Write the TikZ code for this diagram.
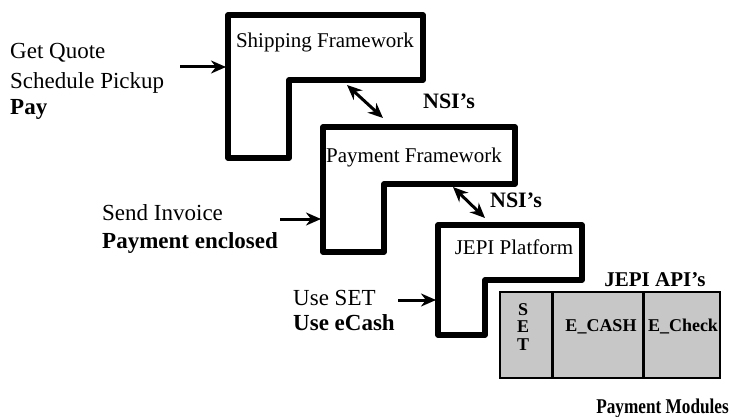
\documentclass[tikz,border=0pt]{standalone}
\usepackage{fontspec}
\usepackage{graphicx}
\setmainfont{Liberation Serif}
\usetikzlibrary{arrows.meta}
\begin{document}
\begin{tikzpicture}[x=1pt,y=-1pt,
  frame/.style={line width=5.5pt, line join=round},
  boxlab/.style={font=\fontsize{21}{24}\selectfont, inner sep=0},
  side/.style={font=\fontsize{23}{28}\selectfont, inner sep=0, anchor=base west},
  sideb/.style={side, font=\fontsize{23}{28}\selectfont\bfseries},
  nsi/.style={font=\fontsize{22}{24}\selectfont\bfseries, inner sep=0},
  apilab/.style={font=\fontsize{21}{24}\selectfont\bfseries, inner sep=0},
  modlab/.style={font=\fontsize{18}{20}\selectfont\bfseries, inner sep=0},
  arr/.style={line width=3pt, -{Stealth[length=15pt,width=13pt]}},
  darr/.style={line width=3pt, {Stealth[length=15pt,width=13pt]}-{Stealth[length=15pt,width=13pt]}},
  modfill/.style={fill=black!22, draw=black, line width=1.8pt}
]
\useasboundingbox (0,0) rectangle (731,417);

% L-shaped frameworks
\draw[frame] (228,15) -- (423,15) -- (423,80) -- (289,80) -- (289,158) -- (228,158) -- cycle;
\draw[frame] (323,127) -- (515,127) -- (515,184) -- (384,184) -- (384,252) -- (323,252) -- cycle;
\draw[frame] (438,225) -- (582,225) -- (582,280) -- (485,280) -- (485,335) -- (438,335) -- cycle;

\node[boxlab] (ship) at (325,42) {Shipping Framework};
\node[boxlab] (pay) at (414,157) {Payment Framework};
\node[boxlab] (jepi) at (514,247) {JEPI Platform};

% payment modules
\draw[modfill] (500,292) rectangle (720,378);
\draw[line width=3pt] (552,292) -- (552,378);
\draw[line width=3pt] (643,292) -- (643,378);
\node[modlab] (ms) at (523,310) {S};
\node[modlab] (me) at (523,327) {E};
\node[modlab] (mt) at (523,345) {T};
\node[modlab] (cash) at (601,327) {E\_CASH};
\node[modlab] (check) at (683,327) {E\_Check};
\node[apilab] (api) at (655,280) {JEPI API’s};
\node[apilab, anchor=east] (modules) at (729,408) {\scalebox{0.82}[1]{Payment Modules}};

% side texts
\node[side] (t1) at (10,59) {Get Quote};
\node[side] (t2) at (10,89) {Schedule Pickup};
\node[sideb] (t3) at (10,115) {Pay};
\node[side] (t4) at (102,220) {Send Invoice};
\node[sideb] (t5) at (102,248) {Payment enclosed};
\node[side] (t6) at (293,305) {Use SET};
\node[sideb] (t7) at (293,330) {Use eCash};

% arrows in
\coordinate (a1s) at (180,67); \coordinate (a1e) at (226,67);
\coordinate (a2s) at (280,219); \coordinate (a2e) at (321,219);
\coordinate (a3s) at (398,300); \coordinate (a3e) at (436,300);
\draw[arr] (a1s) -- (a1e);
\draw[arr] (a2s) -- (a2e);
\draw[arr] (a3s) -- (a3e);

% NSI double arrows
\coordinate (n1s) at (347,85); \coordinate (n1e) at (383,118);
\coordinate (n2s) at (453,187); \coordinate (n2e) at (485,218);
\draw[darr] (n1s) -- (n1e);
\draw[darr] (n2s) -- (n2e);
\node[nsi] (nsi1) at (449,101) {NSI’s};
\node[nsi] (nsi2) at (516,200) {NSI’s};
\end{tikzpicture}
\end{document}
